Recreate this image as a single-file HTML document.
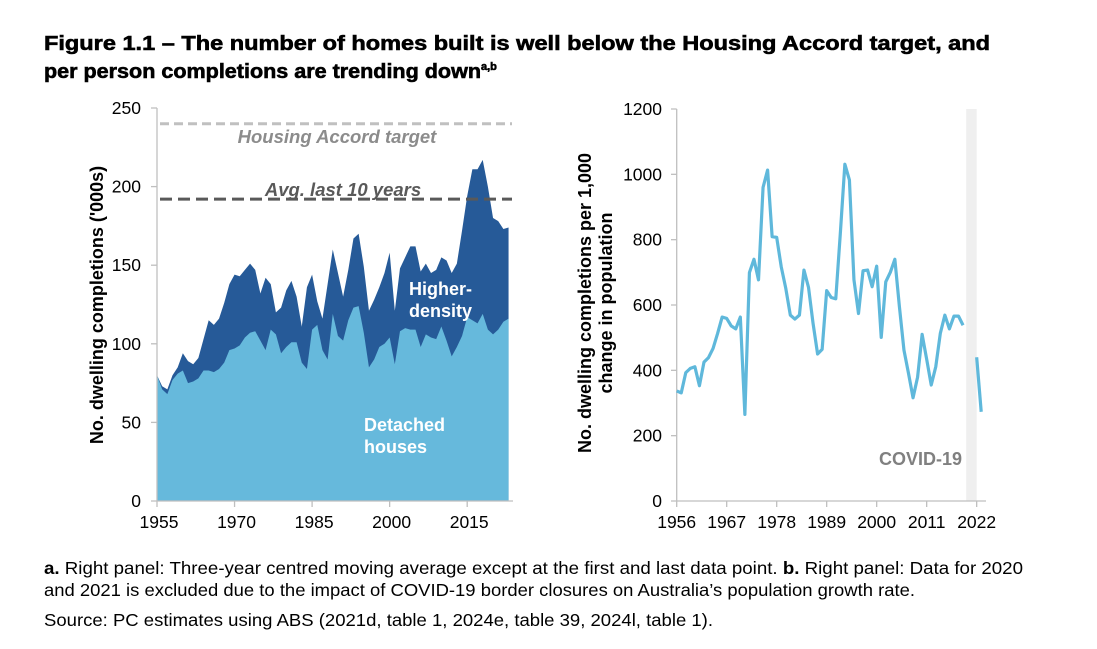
<!DOCTYPE html>
<html><head><meta charset="utf-8"><style>
body{margin:0;background:#fff;width:1097px;height:649px;overflow:hidden;font-family:"Liberation Sans",Arial,sans-serif}
svg{position:absolute;left:0;top:0}
</style></head><body>
<svg width="1097" height="649" xmlns="http://www.w3.org/2000/svg" font-family="Liberation Sans, Arial, sans-serif">
<g font-weight="bold" font-size="20" fill="#000">
<text x="44" y="50" textLength="946" lengthAdjust="spacingAndGlyphs" stroke="#000" stroke-width="0.6">Figure 1.1 – The number of homes built is well below the Housing Accord target, and</text>
<text x="44" y="78" stroke="#000" stroke-width="0.6"><tspan textLength="437" lengthAdjust="spacingAndGlyphs">per person completions are trending down</tspan><tspan font-size="11" dy="-8">a,b</tspan></text>
</g>
<g id="left"></g>
<g id="right"></g>
<g font-size="17.5" fill="#000">
<text x="44" y="574" textLength="979" lengthAdjust="spacingAndGlyphs"><tspan font-weight="bold">a.</tspan> Right panel: Three-year centred moving average except at the first and last data point. <tspan font-weight="bold">b.</tspan> Right panel: Data for 2020</text>
<text x="44" y="596" textLength="871" lengthAdjust="spacingAndGlyphs">and 2021 is excluded due to the impact of COVID-19 border closures on Australia’s population growth rate.</text>
<text x="44" y="626" textLength="669" lengthAdjust="spacingAndGlyphs">Source: PC estimates using ABS (2021d, table 1, 2024e, table 39, 2024l, table 1).</text>
</g>
</svg>
<script>
const leftYears = [];
for (let y = 1955; y <= 2023; y++) leftYears.push(y);
const totalValues = [80,73,71,80,85,94,89,87,91,103,115,112,116,126,138,144,143,147,151,147,132,142,138,120,123,134,140,130,111,136,144,127,116,138,160,145,130,147,167,170,149,121,128,136,145,158,121,148,155,162,162,146,151,145,147,155,153,145,151,172,194,211,211,217,200,180,178,173,174];
const detachedValues = [80,71,68,77,81,83,75,76,78,83,83,82,84,88,96,97,99,104,107,108,102,96,109,106,94,98,101,101,88,84,109,112,96,90,119,105,102,115,123,124,107,85,90,98,100,104,87,108,110,109,109,98,106,104,103,111,102,92,98,105,117,115,113,119,109,106,109,114,116];
const leftYTicks = [0,50,100,150,200,250];
const leftXTicks = [1955,1970,1985,2000,2015];
const accordTarget = 240;
const avgLast10 = 192;

const rightYears = [1956,1957,1958,1959,1960,1961,1962,1963,1964,1965,1966,1967,1968,1969,1970,1971,1972,1973,1974,1975,1976,1977,1978,1979,1980,1981,1982,1983,1984,1985,1986,1987,1988,1989,1990,1991,1992,1993,1994,1995,1996,1997,1998,1999,2000,2001,2002,2003,2004,2005,2006,2007,2008,2009,2010,2011,2012,2013,2014,2015,2016,2017,2018,2019];
const rightValues = [337,331,393,406,411,353,425,439,467,513,563,559,536,527,563,265,699,740,677,960,1013,809,807,717,651,569,557,569,707,654,544,450,464,644,623,619,819,1031,983,677,574,705,707,656,719,501,671,700,740,595,462,391,316,379,510,434,355,411,513,569,527,566,566,538];
const rightYears2 = [2022,2023];
const rightValues2 = [440,273];
const rightYTicks = [0,200,400,600,800,1000,1200];
const rightXTicks = [1956,1967,1978,1989,2000,2011,2022];
const covidBand = [2019.7,2022];

const NS = "http://www.w3.org/2000/svg";
function mk(parent, tag, attrs, text){const e=document.createElementNS(NS,tag);for(const k in attrs)e.setAttribute(k,attrs[k]);if(text!==undefined)e.textContent=text;parent.appendChild(e);return e;}

// LEFT
const L = document.getElementById('left');
const lx = y => 157 + (y-1955)*5.17;
const ly = v => 501 - v*1.572;
let dTot = 'M'+lx(1955)+','+ly(0);
leftYears.forEach((y,i)=>{dTot+=' L'+lx(y)+','+ly(totalValues[i]);});
dTot += ' L'+lx(2023)+','+ly(0)+' Z';
let el = mk(L,'path',{d:dTot,fill:'#265a98'});


let dDet = 'M'+lx(1955)+','+ly(0);
leftYears.forEach((y,i)=>{dDet+=' L'+lx(y)+','+ly(detachedValues[i]);});
dDet += ' L'+lx(2023)+','+ly(0)+' Z';
el = mk(L,'path',{d:dDet,fill:'#66b9dc'});


el = mk(L,'line',{x1:160,x2:512,y1:ly(accordTarget),y2:ly(accordTarget),stroke:'#c0c0c0','stroke-width':3,'stroke-dasharray':'9,5'});


el = mk(L,'line',{x1:160,x2:512,y1:ly(avgLast10),y2:ly(avgLast10),stroke:'#595959','stroke-width':3,'stroke-dasharray':'12,6'});


el = mk(L,'text',{x:337,y:143,'text-anchor':'middle','font-size':18.5,'font-weight':'bold','font-style':'italic',fill:'#8c8c8c'},'Housing Accord target');


el = mk(L,'text',{x:343,y:196,'text-anchor':'middle','font-size':18.5,'font-weight':'bold','font-style':'italic',fill:'#595959'},'Avg. last 10 years');


el = mk(L,'text',{x:409,y:295,'font-size':18,'font-weight':'bold',fill:'#fff'},'Higher-');


el = mk(L,'text',{x:409,y:317,'font-size':18,'font-weight':'bold',fill:'#fff'},'density');


el = mk(L,'text',{x:364,y:431,'font-size':18,'font-weight':'bold',fill:'#fff'},'Detached');


el = mk(L,'text',{x:364,y:453,'font-size':18,'font-weight':'bold',fill:'#fff'},'houses');


el = mk(L,'line',{x1:157,x2:157,y1:108,y2:501,stroke:'#bfbfbf','stroke-width':1.3});


el = mk(L,'line',{x1:157,x2:513,y1:501,y2:501,stroke:'#bfbfbf','stroke-width':1.3});


leftYTicks.forEach(v=>{
  mk(L,'line',{x1:151,x2:157,y1:ly(v),y2:ly(v),stroke:'#bfbfbf','stroke-width':1.3});
  const t = mk(L,'text',{x:141,y:ly(v)+6,'text-anchor':'end','font-size':17.5,fill:'#000'},String(v));
  
  
});
leftXTicks.forEach(v=>{
  mk(L,'line',{x1:lx(v),x2:lx(v),y1:501,y2:507,stroke:'#bfbfbf','stroke-width':1.3});
  const t = mk(L,'text',{x:lx(v)+2,y:528,'text-anchor':'middle','font-size':17.5,fill:'#000'},String(v));
  
  
});
el = mk(L,'text',{x:0,y:0,transform:'translate(103,305) rotate(-90)','text-anchor':'middle','font-size':18,'font-weight':'bold',fill:'#000'},"No. dwelling completions ('000s)");



// RIGHT
const R = document.getElementById('right');
const rx = y => 676.7 + (y-1956)*4.545;
const ry = v => 501 - v*392/1200;
el = mk(R,'rect',{x:rx(covidBand[0]),y:109,width:rx(covidBand[1])-rx(covidBand[0]),height:392,fill:'#efefef'});


el = mk(R,'text',{x:962,y:465,'text-anchor':'end','font-size':18,'font-weight':'bold',fill:'#808080'},'COVID-19');


el = mk(R,'line',{x1:676.7,x2:986,y1:501,y2:501,stroke:'#bfbfbf','stroke-width':1.3});


el = mk(R,'line',{x1:676.7,x2:676.7,y1:109,y2:501,stroke:'#bfbfbf','stroke-width':1.3});


rightYTicks.forEach(v=>{
  mk(R,'line',{x1:671,x2:676.7,y1:ry(v),y2:ry(v),stroke:'#bfbfbf','stroke-width':1.3});
  const t = mk(R,'text',{x:662,y:ry(v)+6,'text-anchor':'end','font-size':17.5,fill:'#000'},String(v));
  
  
});
rightXTicks.forEach(v=>{
  mk(R,'line',{x1:rx(v),x2:rx(v),y1:501,y2:507,stroke:'#bfbfbf','stroke-width':1.3});
  const t = mk(R,'text',{x:rx(v),y:528,'text-anchor':'middle','font-size':17.5,fill:'#000'},String(v));
  
  
});
let pts = rightYears.map((y,i)=>rx(y)+','+ry(rightValues[i])).join(' ');
el = mk(R,'polyline',{points:pts,fill:'none',stroke:'#5fb8db','stroke-width':3.2,'stroke-linejoin':'round'});


pts = rightYears2.map((y,i)=>rx(y)+','+ry(rightValues2[i])).join(' ');
el = mk(R,'polyline',{points:pts,fill:'none',stroke:'#5fb8db','stroke-width':3.2,'stroke-linejoin':'round'});


el = mk(R,'text',{x:0,y:0,transform:'translate(591,303) rotate(-90)','text-anchor':'middle','font-size':18,'font-weight':'bold',fill:'#000'},'No. dwelling completions per 1,000');


el = mk(R,'text',{x:0,y:0,transform:'translate(612,303) rotate(-90)','text-anchor':'middle','font-size':18,'font-weight':'bold',fill:'#000'},'change in population');


</script>
</body></html>
